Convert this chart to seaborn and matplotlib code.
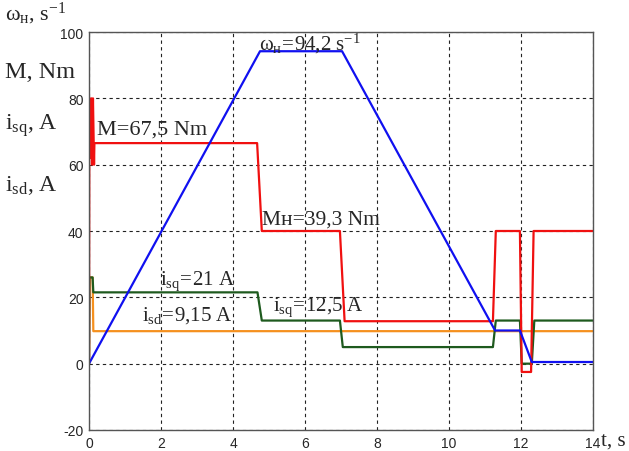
import matplotlib
matplotlib.use('Agg')
import matplotlib.pyplot as plt
import seaborn as sns
import pandas as pd

# speed omega, s^-1
t_speed = [0, 4.75, 7.03, 11.28, 11.97, 12.3, 14]
speed = [0, 94.2, 94.2, 10, 10, 0.5, 0.5]

# torque M, Nm
t_torque = [0, 0.01, 0.04, 0.06, 0.09, 0.11, 0.14, 0.15, 4.67, 4.8, 6.97, 7.1,
            11.22, 11.3, 11.97, 12.02, 12.28, 12.35, 14]
torque = [0, 80, 62, 80, 60, 80, 60, 66.5, 66.5, 40, 40, 12.8,
          12.8, 40, 40, -2.5, -2.5, 40, 40]

# i_sq, A
t_isq = [0, 0.01, 0.1, 0.12, 4.68, 4.8, 6.97, 7.05, 11.22, 11.3, 11.97, 12.02, 12.3, 12.37, 14]
isq = [0, 26, 26, 21.5, 21.5, 13, 13, 5, 5, 13, 13, 0, 0, 13, 13]

# i_sd, A
t_isd = [0, 0.02, 0.1, 0.12, 14]
isd = [0, 26, 26, 9.8, 9.8]

x_ticks = [0, 2, 4, 6, 8, 10, 12, 14]
y_ticks = [-20, 0, 20, 40, 60, 80, 100]

sns.set_style('white')
plt.rcParams['mathtext.fontset'] = 'custom'
plt.rcParams['mathtext.rm'] = 'Liberation Serif'
plt.rcParams['mathtext.it'] = 'Liberation Serif:italic'
plt.rcParams['axes.unicode_minus'] = False

fig = plt.figure(figsize=(6.29, 4.52), dpi=100)
ax = fig.add_axes([89 / 629, 1 - 431 / 452, (593 - 89) / 629, (431 - 33) / 452])

series = [
    (t_speed, speed, '#1010f0'),
    (t_torque, torque, '#f01010'),
    (t_isq, isq, '#1e5a1e'),
    (t_isd, isd, '#f5901e'),
]
# draw order: orange under, then green, red, blue
for tt, vv, col in [series[3], series[2], series[1], series[0]]:
    df = pd.DataFrame({'t': tt, 'v': vv})
    sns.lineplot(data=df, x='t', y='v', ax=ax, color=col, lw=1.6,
                 estimator=None, sort=False)

ax.set_xlim(0, 14)
ax.set_ylim(-20, 100)
ax.set_xticks(x_ticks)
ax.set_yticks(y_ticks)
ax.set_xlabel('')
ax.set_ylabel('')
ax.grid(True, color='#222222', linestyle=(0, (3, 3)), lw=0.8)
ax.set_axisbelow(True)
for s in ax.spines.values():
    s.set_color('#555555')
    s.set_linewidth(1.0)
tick_font = ['Liberation Sans', 'DejaVu Sans']
ax.tick_params(length=0, pad=4, labelsize=10)
for lab in ax.get_xticklabels() + ax.get_yticklabels():
    lab.set_family(tick_font)

serif = ['Liberation Serif', 'DejaVu Serif']
fs = 15
ax.text(4.72, 96.8, r'$\mathregular{\omega_н\!=\!94{,}2\ s^{-1}}$', family=serif,
        fontsize=fs, va='center', ha='left')
ax.text(0.22, 70.6, 'M=67,5 Nm', family=serif, fontsize=fs + 1, va='center', ha='left')
ax.text(4.8, 43.7, 'Mн=39,3 Nm', family=serif,
        fontsize=fs + 0.5, va='center', ha='left')
ax.text(1.97, 25.2, r'$\mathregular{i_{sq}\!=\!21\ A}$', family=serif,
        fontsize=fs, va='center', ha='left')
ax.text(5.1, 17.2, r'$\mathregular{i_{sq}\!=\!12{,}5\ A}$', family=serif,
        fontsize=fs, va='center', ha='left')
ax.text(1.47, 14.8, r'$\mathregular{i_{sd}\!=\!9{,}15\ A}$', family=serif,
        fontsize=fs, va='center', ha='left')

# left axis captions
fig.text(5 / 629, 1 - 14 / 452, r'$\mathregular{\omega_н{,}\ s^{-1}}$', family=serif,
         fontsize=16, va='center', ha='left')
fig.text(5 / 629, 1 - 72 / 452, 'M, Nm', family=serif, fontsize=17.5,
         va='center', ha='left')
fig.text(5 / 629, 1 - 126 / 452, r'$\mathregular{i_{sq}{,}\ A}$', family=serif,
         fontsize=17, va='center', ha='left')
fig.text(5 / 629, 1 - 186 / 452, r'$\mathregular{i_{sd}{,}\ A}$', family=serif,
         fontsize=17, va='center', ha='left')
fig.text(601 / 629, 1 - 441 / 452, 't, s', family=serif, fontsize=15,
         va='center', ha='left')

fig.savefig('out.png', dpi=100)
